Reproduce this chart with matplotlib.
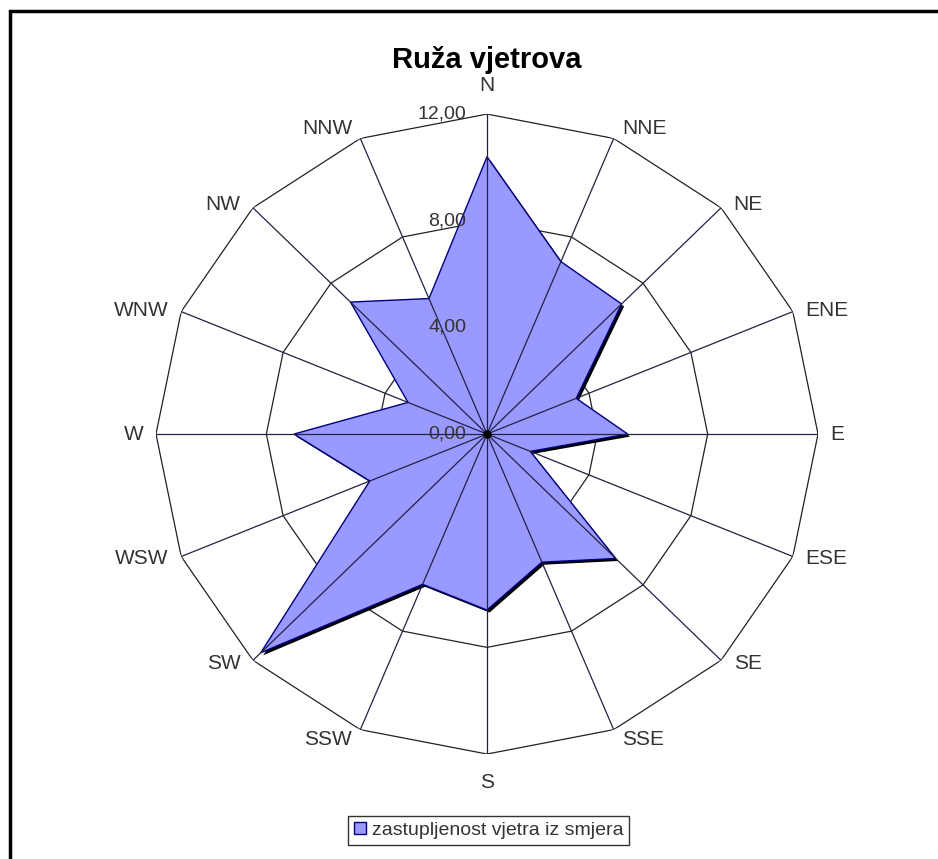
import numpy as np
import matplotlib.pyplot as plt
from matplotlib import patheffects as pe
from matplotlib.patches import Rectangle, Patch

plt.rcParams['font.family'] = ['Liberation Sans', 'DejaVu Sans']

# wind rose data
directions = ['N', 'NNE', 'NE', 'ENE', 'E', 'ESE', 'SE', 'SSE',
              'S', 'SSW', 'SW', 'WSW', 'W', 'WNW', 'NW', 'NNW']
values = [10.4, 7.0, 6.9, 3.5, 5.1, 1.7, 6.6, 5.2,
          6.6, 6.1, 11.6, 4.6, 7.0, 3.1, 7.0, 5.5]
rings = [0, 4, 8, 12]
ring_labels = ['0,00', '4,00', '8,00', '12,00']

theta = np.deg2rad(np.arange(len(directions)) * 360 / len(directions))
theta_c = np.append(theta, theta[0])

fig = plt.figure(figsize=(9.38, 8.59), dpi=100)
ax = fig.add_axes([0.1663, 0.1222, 0.7058, 0.745], projection='polar')
ax.set_theta_zero_location('N')
ax.set_theta_direction(-1)
ax.set_ylim(0, 12)
ax.set_aspect('auto')
ax.grid(False)
ax.set_xticks([])
ax.set_yticks([])
ax.spines['polar'].set_visible(False)

# polygon grid rings
for r in rings[1:]:
    ax.plot(theta_c, [r] * len(theta_c), color='#222222', lw=0.9, zorder=1)

# data polygon with shadow
vals_c = values + [values[0]]
ax.fill(theta_c, vals_c, facecolor='#9999FF', edgecolor='#000080', lw=1.0, zorder=2,
        path_effects=[pe.SimplePatchShadow(offset=(1.8, -1.8), shadow_rgbFace='black', alpha=1.0),
                      pe.Normal()])

# spokes
for t in theta:
    ax.plot([t, t], [0, 12], color='#222244', lw=0.9, zorder=3)
ax.plot([0], [0], 'o', color='black', ms=5, zorder=4)

# radial labels
for r, lab in zip(rings, ring_labels):
    ax.annotate(lab, xy=(0, r), xytext=(-15, 0), textcoords='offset points',
                ha='right', va='center', fontsize=14, color='#333333', zorder=5)

# category labels, placed next to the spoke ends like Excel does
for t, d in zip(theta, directions):
    s, c = np.sin(t), np.cos(t)
    if abs(s) < 0.1:
        ha = 'center'
        va = 'bottom' if c > 0 else 'top'
        off = (0, 14 * np.sign(c))
    elif abs(c) > 0.85:
        ha = 'left' if s > 0 else 'right'
        va = 'bottom' if c > 0 else 'top'
        off = (6 * np.sign(s), 0)
    else:
        ha = 'left' if s > 0 else 'right'
        va = 'center'
        off = (9 * np.sign(s), 3 * c)
    ax.annotate(d, xy=(t, 12), xytext=off, textcoords='offset points',
                ha=ha, va=va, fontsize=15, color='#333333')

fig.text(0.519, 0.930, 'Ruža vjetrova', ha='center', va='center',
         fontsize=21, fontweight='bold')

leg = fig.legend(handles=[Patch(facecolor='#9999FF', edgecolor='#000080',
                                label='zastupljenost vjetra iz smjera')],
                 loc='center', bbox_to_anchor=(0.521, 0.033), frameon=True,
                 fancybox=False, fontsize=14, handlelength=0.6, handleheight=0.6,
                 handletextpad=0.3, borderpad=0.3, borderaxespad=0)
leg.get_frame().set_edgecolor('black')
leg.get_frame().set_linewidth(1.0)
for txt in leg.get_texts():
    txt.set_color('#333333')

# outer chart border (only top and left edge visible)
fig.add_artist(Rectangle((10 / 938, -1), 5, 1 + (1 - 11 / 859), fill=False,
                         edgecolor='black', lw=2.5, transform=fig.transFigure))

fig.savefig('out.png', dpi=100)
